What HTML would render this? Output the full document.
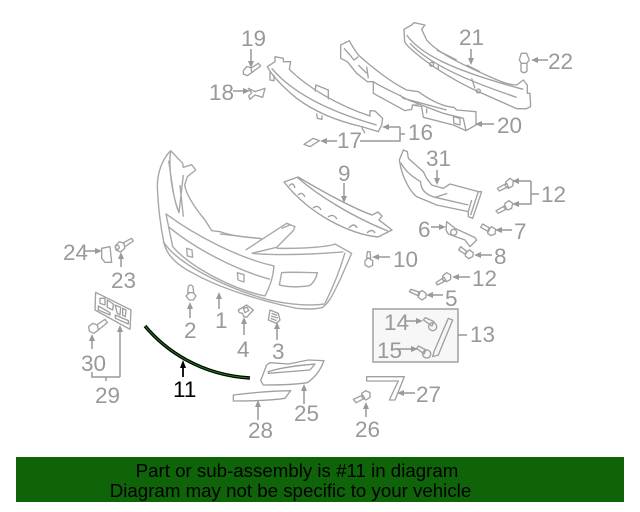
<!DOCTYPE html>
<html><head><meta charset="utf-8"><style>
html,body{margin:0;padding:0;background:#fff}
svg{display:block}
text{font-family:"Liberation Sans",sans-serif}
.l{font-size:22.5px;fill:#999}
.a{fill:none;stroke:#999;stroke-width:1.5}
.h{fill:#999}
</style></head><body>
<svg width="640" height="512" viewBox="0 0 640 512" xmlns="http://www.w3.org/2000/svg">
<rect width="640" height="512" fill="#fff"/>
<!-- bumper -->
<g transform="translate(130,130) scale(.3333)" fill="none" stroke="#a8a8a8" stroke-width="4.2" stroke-linejoin="round">
<path d="M122 62C95 90 82 130 82 170C84 230 92 290 102 340C112 380 150 410 190 430C270 475 400 515 500 535C530 538 560 538 578 532C600 515 610 490 630 450L665 370L615 342C590 352 510 356 440 355"/>
<path d="M122 62L158 100L160 112L185 104L197 120L172 140L164 165C170 200 200 240 225 270L245 302L270 305C310 320 360 322 395 326"/>
<path d="M122 62C115 110 125 190 147 248L160 135M116 92C125 150 130 210 147 248M150 165L160 260"/>
<path d="M108 252C200 320 330 385 432 408C430 440 420 470 405 498C320 480 190 420 128 350Z"/>
<path d="M115 290C200 360 320 420 420 448"/>
<path d="M100 335C140 400 280 470 400 505C450 520 530 530 585 522"/>
<path d="M170 355L186 360L188 382L172 378ZM322 428L342 434L342 456L324 450Z"/>
<path d="M455 428C490 425 530 428 562 428C558 445 550 462 535 468C505 472 475 472 448 465Z"/>
<path d="M347 360L470 280L495 290L490 302L440 352L365 370M455 295L480 285M365 370C450 378 560 372 640 366M395 326L270 312M585 520C610 470 630 420 645 368"/>
</g>
<!-- reinforcement 9 -->
<g fill="none" stroke="#a0a0a0" stroke-width="1.4" stroke-linejoin="round">
<path d="M284 182L298 177C320 190 350 207 372 215L378 212L382 216L379 220L392 230L378 237C350 234 310 215 284 182Z"/>
<path d="M298 178C320 197 355 218 388 231"/>
<path d="M289 186Q293 181 295 188M298 195Q302 191 305 197M313 208Q318 204 321 210M328 217Q333 213 337 219M349 228Q354 222 357 228M367 233Q372 228 375 233"/>
</g>
<!-- top beams -->
<g transform="translate(230,10) scale(.3333)" fill="none" stroke="#a0a0a0" stroke-width="4" stroke-linejoin="round">
<path d="M112 170L135 155V140L160 145L160 155L182 155L178 178C230 230 320 285 420 318V302L435 303L458 325L455 345L445 365L395 350C330 335 260 310 200 265C170 240 130 205 112 170Z"/>
<path d="M120 185V210L132 212V195M255 245L258 225L295 240V268M125 175C180 240 280 300 440 345M260 310L262 325L276 328V316M395 352L405 370"/>
<path d="M332 105L358 92L368 110L385 135C430 175 480 215 530 240L565 245C600 270 640 290 672 292L680 300L738 305V345L708 362L670 345L580 322L575 290L548 285L545 298L525 302L430 250V215L412 215L380 190L352 155L332 145Z"/>
<path d="M342 115L360 135L372 150L385 140M410 170L415 205M385 165L410 190M430 215C460 235 500 250 535 270L640 310L700 325L708 362M510 255L520 265L650 300M670 320L690 325V345L672 340ZM590 295V310M545 285L565 285"/>
<path d="M522 58L545 45L552 38L585 45L575 58L590 90C620 125 680 155 750 187C790 205 830 225 860 225L880 210L892 225V250H900L902 290L890 296L860 296L745 245C690 220 620 180 570 140C545 120 528 105 524 95Z"/>
<path d="M530 75C570 130 660 180 880 238M540 100C600 165 720 215 860 262M605 157A6 6 0 1 0 605.1 157M745 237A6 6 0 1 0 745.1 237M620 120L680 150M710 165L750 185M625 165L625 180M725 205L735 235"/>
<!-- 19 -->
<path d="M40 182L50 170L63 173L65 188L52 197L40 192ZM62 175L85 160L92 168L65 188"/>
<!-- 18 -->
<path d="M55 235L75 245L105 235L98 262L75 255L60 268L56 258L65 248Z"/>
<!-- 22 -->
<path d="M868 150L874 130L890 130L898 150L890 160H874ZM873 160V183Q882 193 891 183V160"/>
<!-- 17 part -->
<path d="M222 403L250 385L268 392L240 410Z"/>
</g>
<!-- right cluster -->
<g transform="translate(360,140) scale(.3333)" fill="none" stroke="#a0a0a0" stroke-width="4" stroke-linejoin="round">
<!-- 31 -->
<path d="M118 60L130 30L142 35L145 55L190 95L200 115L215 135L250 145L270 132L355 155L365 155L338 235L325 230L325 215L230 195L170 170C150 155 125 110 118 60Z"/>
<path d="M122 68C140 100 165 115 182 125C182 150 200 165 225 172L262 160M225 172L325 195M355 155L332 225M335 180L325 215"/>
<!-- 12 -->
<path d="M412 145L440 130L445 140L418 153ZM438 125L450 115L460 122L458 138L445 145L436 138Z"/>
<path d="M408 212L435 197L440 207L415 220ZM435 190L447 182L458 190L455 205L443 210L432 203Z"/>
<!-- 7 -->
<path d="M362 262L368 252L390 265L385 275ZM385 268L395 260L407 268L405 282L393 287L383 280Z"/>
<!-- 8 -->
<path d="M296 330L302 320L322 335L316 343ZM317 338L328 330L340 338L338 350L326 356L316 348Z"/>
<!-- 10 -->
<path d="M20 355L22 335H30L32 355ZM15 362L25 354L38 362V376L26 382L15 375Z"/>
<!-- 12 lower -->
<path d="M228 428L252 412L258 422L232 435ZM248 408L260 398L272 405L272 418L260 425L248 420Z"/>
<!-- 5 -->
<path d="M148 455L153 448L180 457L176 468ZM175 458L187 452L198 460L198 472L186 480L175 472Z"/>
<!-- 6 -->
<path d="M260 245L285 265L345 293L350 300L330 320L315 300L265 282L258 270Z"/>
<path d="M281 268A9 9 0 1 0 281.100 268"/>
</g>
<!-- left cluster -->
<g transform="translate(50,230) scale(.3333)" fill="none" stroke="#a0a0a0" stroke-width="4" stroke-linejoin="round">
<!-- 24 -->
<path d="M155 55L180 50L185 97L165 97L155 85Z"/>
<!-- 23 -->
<path d="M196 48L208 35L222 40L224 55L212 66L198 60ZM220 38L245 25L250 33L225 50"/>
<path d="M202 46A6 6 0 1 0 202.100 46"/>
<!-- 29 plate -->
<path d="M137 187L243 240L240 298L135 240Z"/>
<path d="M150 205H165V225L150 220ZM172 210L190 222L188 240L172 232ZM195 225L212 232L210 255L202 250ZM218 235L228 240L226 260L218 256ZM145 228L180 248V255L145 240ZM196 255L235 272V282L196 265Z"/>
<!-- 30 bolt -->
<path d="M116 290L128 280L142 285L145 300L132 310L118 304ZM140 285L165 268L172 278L145 300"/>
<!-- 2 -->
<path d="M415 170Q422 160 429 170L431 188H413ZM408 198L418 188H430L438 198L430 210H418Z"/>
<!-- 4 -->
<path d="M565 240L590 225L610 240L590 262L580 258L578 250L568 248Z"/>
<path d="M580 235L592 232L596 242L585 248Z"/>
<!-- 3 -->
<path d="M660 240L685 250L690 270L680 280L655 270Z"/>
<path d="M665 250L682 256M663 258L684 264M662 265L680 272"/>
</g>
<!-- 25 / 28 / 26 / 27 -->
<g transform="translate(220,340) scale(.3333)" fill="none" stroke="#a0a0a0" stroke-width="4" stroke-linejoin="round">
<path d="M150 68L205 72L265 60L312 62C305 80 295 105 262 128C220 135 170 135 130 135L122 122L140 75Z"/>
<path d="M145 95C190 80 250 75 285 72L270 90L145 100Z"/>
<path d="M40 165C80 160 150 153 212 152L195 175C150 182 90 183 40 183Z"/>
<path d="M440 110L553 110L525 180L508 180L535 123L440 123Z"/>
<path d="M400 178L428 165L434 175L408 188ZM425 160L437 152L450 158L450 172L438 180L426 172Z"/>
</g>
<!-- 13 box -->
<rect x="373" y="309" width="85" height="53" fill="#f7f7f7" stroke="#a0a0a0" stroke-width="1.5"/>
<g transform="translate(360,140) scale(.3333)" fill="none" stroke="#a0a0a0" stroke-width="4" stroke-linejoin="round">
<path d="M265 535L278 540L235 645L218 650L222 635Z"/>
<path d="M190 540L196 533L222 545L216 558ZM218 548A12 12 0 1 0 218.100 548"/>
<path d="M170 625L176 618L198 630L192 642ZM200 630A12 12 0 1 0 200.100 630"/>
</g>
<!-- arrows and leaders -->
<g class="a">
<path d="M251 49V64"/><path d="M471 49V61"/><path d="M548 60H535"/><path d="M233 91H246"/>
<path d="M400 127H386M400 127V141H360M400 134H405"/><path d="M494 124H478"/><path d="M337 141H323"/>
<path d="M344 183V199"/><path d="M437 170V181"/>
<path d="M531 181H515M531 181V204H515M531 194H539"/>
<path d="M512 230H498"/><path d="M431 227H443"/><path d="M492 255H478"/><path d="M390 257H375"/>
<path d="M470 277H456"/><path d="M443 295H430"/><path d="M458 335H467"/>
<path d="M405 321H420"/><path d="M398 349H414"/>
<path d="M85 251H98"/><path d="M121 267V256"/>
<path d="M120 377V329M92 372V377H120M106 377V381"/><path d="M92 349V338"/>
<path d="M190 318V306"/><path d="M219 309V296"/><path d="M244 335V321"/><path d="M277 340V326"/>
<path d="M304 404V388"/><path d="M258 420V404"/><path d="M366 417V406"/><path d="M415 393H400"/>
</g>
<g class="h">
<path d="M251 68l-3-7h6z"/><path d="M471 65l-3-7h6z"/><path d="M531 60l7-3v6z"/><path d="M250 91l-7-3v6z"/>
<path d="M382 127l7-3v6z"/><path d="M475 124l7-3v6z"/><path d="M320 141l7-3v6z"/><path d="M344 203l-3-7h6z"/><path d="M437 185l-3-7h6z"/>
<path d="M512 181l7-3v6zM512 204l7-3v6z"/><path d="M495 230l7-3v6z"/><path d="M446 227l-7-3v6z"/><path d="M474 255l7-3v6z"/><path d="M372 257l7-3v6z"/>
<path d="M452 277l7-3v6z"/><path d="M426 295l7-3v6z"/><path d="M423 321l-7-3v6z"/><path d="M418 349l-7-3v6z"/>
<path d="M102 251l-7-3v6z"/><path d="M121 252l-3 7h6z"/><path d="M120 325l-3 7h6z"/><path d="M92 334l-3 7h6z"/>
<path d="M190 302l-3 7h6z"/><path d="M219 292l-3 7h6z"/><path d="M244 317l-3 7h6z"/><path d="M277 322l-3 7h6z"/>
<path d="M304 384l-3 7h6z"/><path d="M258 400l-3 7h6z"/><path d="M366 402l-3 7h6z"/><path d="M397 393l7-3v6z"/>
</g>
<!-- part 11 -->
<path d="M145 326C165 350 200 375 250 378" fill="none" stroke="#000" stroke-width="3.4"/>
<path d="M145 326C165 350 200 375 250 378" fill="none" stroke="#1a7a1a" stroke-width="1"/>
<path d="M183 377V364" stroke="#000" stroke-width="1.8"/><path d="M183 360l-3 8h6z" fill="#000"/>
<!-- labels -->
<g class="l">
<text x="241" y="46">19</text><text x="459" y="45">21</text><text x="548" y="69">22</text><text x="209" y="100">18</text>
<text x="408" y="140">16</text><text x="337" y="148">17</text><text x="497" y="133">20</text><text x="338" y="181">9</text>
<text x="426" y="166">31</text><text x="541" y="202">12</text><text x="514" y="239">7</text><text x="418" y="237">6</text>
<text x="494" y="264">8</text><text x="393" y="267">10</text><text x="472" y="286">12</text><text x="445" y="306">5</text>
<text x="470" y="342">13</text><text x="384" y="330">14</text><text x="377" y="358">15</text>
<text x="63" y="260">24</text><text x="111" y="288">23</text><text x="95" y="403">29</text><text x="81" y="371">30</text>
<text x="184" y="338">2</text><text x="215" y="328">1</text><text x="237" y="357">4</text><text x="272" y="359">3</text>
<text x="294" y="421">25</text><text x="248" y="438">28</text><text x="355" y="437">26</text><text x="416" y="402">27</text>
<text x="173" y="397" style="fill:#000">11</text>
</g>
<!-- banner -->
<rect x="16" y="457" width="608" height="45" fill="#0f640a"/>
<text x="297" y="477" text-anchor="middle" font-size="18.7" fill="#000">Part or sub-assembly is #11 in diagram</text>
<text x="290.500" y="497" text-anchor="middle" font-size="18.7" fill="#000">Diagram may not be specific to your vehicle</text>
</svg>
</body></html>
